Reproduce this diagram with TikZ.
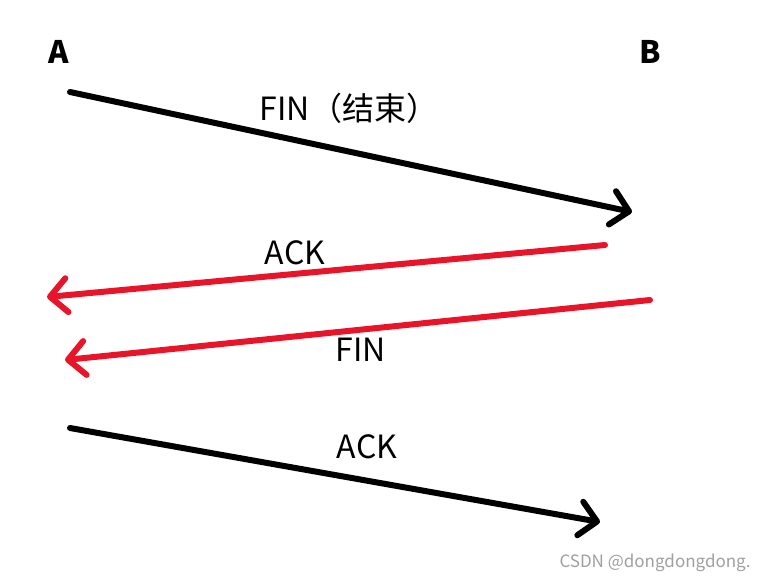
\documentclass[tikz,border=0pt]{standalone}
\usepackage{fontspec}
\setmainfont{Noto Sans CJK SC}
\usepackage{xcolor}
\usetikzlibrary{arrows.meta}
\definecolor{msgred}{RGB}{232,20,42}

\begin{document}
\begin{tikzpicture}[x=1pt,y=-1pt,
    msg/.style={line width=6pt, line cap=round, -{Straight Barb[length=17pt,width=34pt,round]}},
    lbl/.style={font=\fontsize{32}{34}\selectfont, inner sep=0pt}]
    \useasboundingbox (0,0) rectangle (768,582);

    % Hosts
    \node[lbl, font=\fontsize{31}{33}\selectfont\bfseries] (hostA) at (59,52) {A};
    \node[lbl, font=\fontsize{31}{33}\selectfont\bfseries] (hostB) at (650,52) {B};

    % End points of the messages
    \coordinate (finAs) at (70,92);
    \coordinate (finAe) at (632,212);
    \coordinate (ackBs) at (605,245);
    \coordinate (ackBe) at (47,297);
    \coordinate (finBs) at (650,300);
    \coordinate (finBe) at (65,360);
    \coordinate (ackAs) at (70,428);
    \coordinate (ackAe) at (600,522);

    % Messages
    \draw[msg] (finAs) -- (finAe);
    \draw[msg, msgred] (ackBs) -- (ackBe);
    \draw[msg, msgred] (finBs) -- (finBe);
    \draw[msg] (ackAs) -- (ackAe);

    % Labels
    \node[lbl] (finAlbl) at (349,108) {FIN（结束）};
    \node[lbl] (ackBlbl) at (295,253) {ACK};
    \node[lbl] (finBlbl) at (361,350) {FIN};
    \node[lbl] (ackAlbl) at (367,447) {ACK};

    % Watermark
    \node[font=\fontsize{17}{19}\selectfont, text=gray!75, inner sep=0pt] (mark) at (655,563) {CSDN @dongdongdong.};
\end{tikzpicture}
\end{document}
